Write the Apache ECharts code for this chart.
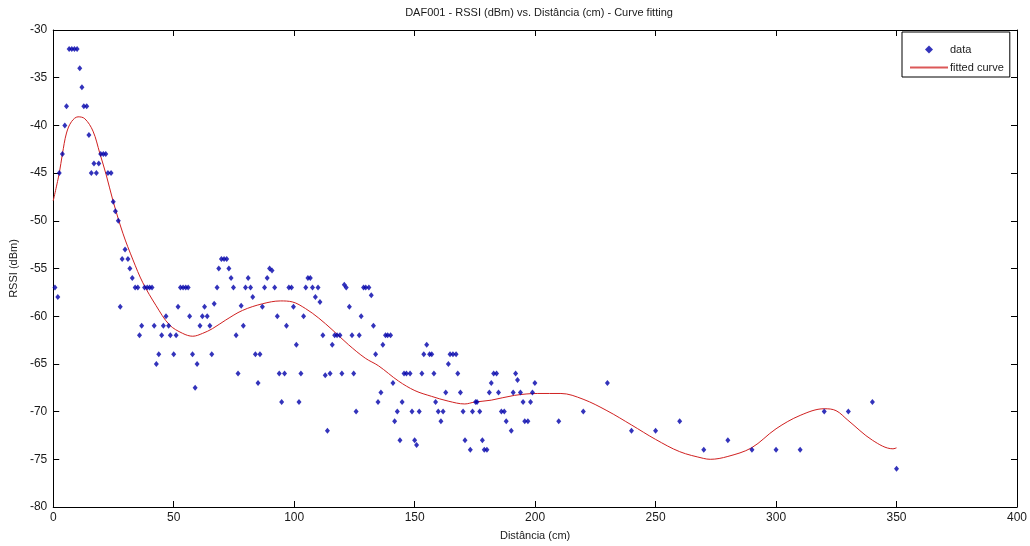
<!DOCTYPE html>
<html>
<head>
<meta charset="utf-8">
<script src="https://cdn.jsdelivr.net/npm/echarts@6/dist/echarts.min.js"></script>
<style>html,body{margin:0;padding:0;background:#fff}#c{width:1030px;height:546px}</style>
</head>
<body>
<div id="c"></div>
<script>
// Measured data (distance cm, RSSI dBm)
const dataX = [0.7,1.9,2.5,3.8,4.8,5.5,6.6,7.7,8.8,9.9,11,11.9,12.7,13.9,14.8,15.8,16.9,17.9,18.9,19.7,20.8,21.8,22.7,24,24.9,25.8,27,27.8,28.6,29.8,31,31.8,32.8,34,35.1,35.8,36.7,37.9,39,40,41,41.9,42.8,43.8,45,45.7,46.8,47.9,48.6,50,51,51.8,52.8,53.9,55,56,56.6,57.8,58.9,59.7,60.9,61.9,62.8,63.9,65,65.8,66.8,68,68.7,69.8,70.9,72,72.9,73.8,74.8,75.9,76.7,78,78.9,79.8,80.9,81.9,82.8,83.9,85,85.8,86.8,87.7,88.8,89.8,90.8,91.9,93,93.8,94.8,96,96.8,97.8,98.9,99.7,100.9,102,102.8,103.9,104.8,105.7,106.7,107.6,108.8,109.9,110.7,111.9,112.9,113.8,114.9,115.8,116.8,117.8,119,119.8,120.8,121.6,122.9,124,124.7,125.7,127,127.8,128.8,129.7,131,132,132.9,133.8,134.8,136,136.8,137.9,138.8,140,141,141.7,142.8,143.9,144.8,145.6,146.6,148.1,148.9,150,150.8,151.9,153,153.8,155,156.2,157.1,158,158.7,159.8,160.9,161.8,162.9,164,164.7,165.9,167.2,167.9,169,170.1,170.9,173.1,174,175.3,175.9,177,178.1,178.9,180,181,181.8,182.8,184,184.8,186,187.2,188,190.1,190.9,191.9,192.7,193.9,195,195.7,197,198.1,198.9,199.9,209.8,220,230,240,250,260,270,280,290,300,310,320,330,340,350];
const dataY = [-57,-58,-45,-43,-40,-38,-32,-32,-32,-32,-34,-36,-38,-38,-41,-45,-44,-45,-44,-43,-43,-43,-45,-45,-48,-49,-50,-59,-54,-53,-54,-55,-56,-57,-57,-62,-61,-57,-57,-57,-57,-61,-65,-64,-62,-61,-60,-61,-62,-64,-62,-59,-57,-57,-57,-57,-60,-64,-67.5,-65,-61,-60,-59,-60,-61,-64,-58.7,-57,-55,-54,-54,-54,-55,-56,-57,-62,-66,-58.9,-61,-57,-56,-57,-58,-64,-67,-64,-59,-57,-56,-55,-55.2,-57,-60,-66,-69,-66,-61,-57,-57,-59,-63,-69,-66,-60,-57,-56,-56,-57,-58,-57,-58.5,-62,-66.2,-72,-66,-63,-62,-62,-62,-66,-56.7,-57,-59,-62,-66,-70,-62,-60,-57,-57,-57,-57.8,-61,-64,-69,-68,-63,-62,-62,-62,-67,-71,-70,-73,-69,-66,-66,-66,-70,-73,-73.5,-70,-66,-64,-63,-64,-64,-66,-69,-70,-71,-70,-68,-65,-64,-64,-64,-66,-68,-70,-73,-74,-70,-69,-69,-70,-73,-74,-74,-68,-67,-66,-66,-68,-70,-70,-71,-72,-68,-66,-66.7,-68,-69,-71,-71,-69,-68,-67,-71,-70,-67,-72,-72,-71,-74,-73,-74,-74,-74,-70,-70,-69,-76];
// Fitted curve
const curveX = [0,2.5,3.8,5.5,7.6,10.3,13.1,16.5,19.3,22,24.8,28.9,33.1,37.2,42.7,48.2,53.7,57.9,62,66.1,71.6,78.5,86.8,94.3,99.2,104.7,110.2,115.7,122.6,129.5,135,143.3,150.1,157,163.9,170.8,174.9,181.8,191.4,201.1,210.7,219.9,229.8,240,249.9,260,269.8,272.7,280,289.8,300,310,320,324.9,329.8,340,348.5,350];
const curveY = [-47.9,-45,-43,-40.8,-39.6,-39.1,-39.3,-40.6,-42.9,-45.2,-47.9,-51.3,-54.1,-56.5,-58.9,-60.9,-61.8,-62.1,-61.8,-61.3,-60.4,-59.4,-58.7,-58.4,-58.5,-59.2,-60.2,-61.4,-63,-64.4,-65.2,-66.8,-67.8,-68.4,-68.9,-69.2,-69,-68.8,-68.3,-68.1,-68.1,-68.7,-69.9,-71.4,-72.9,-74.2,-74.9,-75,-74.7,-73.8,-71.8,-70.4,-69.7,-69.9,-70.9,-73,-73.9,-73.8];
const xTicks = {min: 0, max: 400, interval: 50};
const yTicks = {min: -80, max: -30, interval: 5};
const titleText = 'DAF001 - RSSI (dBm) vs. Distância (cm) - Curve fitting';

const FONT = 'Liberation Sans, Arial, sans-serif';
const TXT = '#1a1a1a';
const DOT = '#0000aa';
const RED = '#d02020';
const chart = echarts.init(document.getElementById('c'), null, {renderer: 'canvas'});
const axisCommon = {
  axisLine: {show: true, onZero: false, lineStyle: {color: '#000', width: 1}},
  axisTick: {show: true, inside: true, length: 6, lineStyle: {color: '#000'}},
  splitLine: {show: false}
};
chart.setOption({
  animation: false,
  backgroundColor: '#fff',
  title: {
    text: titleText, left: 534, top: 2, textAlign: 'center',
    textStyle: {fontFamily: FONT, fontSize: 11, fontWeight: 'normal', color: TXT}
  },
  legend: {
    orient: 'vertical', left: 902, top: 32, width: 110,
    backgroundColor: '#fff', borderColor: '#000', borderWidth: 1,
    padding: [12, 6, 4, 8], itemWidth: 38, itemHeight: 8, itemGap: 7,
    symbolKeepAspect: true,
    textStyle: {fontFamily: FONT, fontSize: 11, color: TXT, padding: [0, 0, 0, -3]},
    data: [
      {name: 'data', icon: 'path://M0,-3L3,0L0,3L-3,0Z', itemStyle: {color: DOT, borderWidth: 0}},
      {name: 'fitted curve', icon: 'path://M0,0H38V2H0Z',
        itemStyle: {color: RED, opacity: 0.75, borderWidth: 0}}
    ]
  },
  grid: {left: 50, right: 12, top: 30, bottom: 31, containLabel: false},
  xAxis: [
    Object.assign({type: 'value', min: xTicks.min, max: xTicks.max, interval: xTicks.interval, position: 'bottom',
      name: 'Distância (cm)', nameLocation: 'middle', nameGap: 23,
      nameTextStyle: {fontFamily: FONT, fontSize: 11, color: TXT},
      axisLabel: {fontFamily: FONT, fontSize: 12, color: TXT, margin: 5}}, axisCommon),
    Object.assign({type: 'value', min: xTicks.min, max: xTicks.max, interval: xTicks.interval, position: 'top',
      axisLabel: {show: false}}, axisCommon)
  ],
  yAxis: [
    Object.assign({type: 'value', min: yTicks.min, max: yTicks.max, interval: yTicks.interval, position: 'left',
      name: 'RSSI (dBm)', nameLocation: 'middle', nameGap: 28,
      nameTextStyle: {fontFamily: FONT, fontSize: 11, color: TXT},
      axisLabel: {fontFamily: FONT, fontSize: 12, color: TXT, margin: 6}}, axisCommon),
    Object.assign({type: 'value', min: yTicks.min, max: yTicks.max, interval: yTicks.interval, position: 'right',
      axisLabel: {show: false}}, axisCommon)
  ],
  series: [
    {
      name: 'data', type: 'scatter', xAxisIndex: 0, yAxisIndex: 0,
      symbol: 'diamond', symbolSize: [5, 6],
      itemStyle: {color: DOT},
      data: dataX.map((x, i) => [x, dataY[i]]), z: 3
    },
    {
      name: 'fitted curve', type: 'line', xAxisIndex: 0, yAxisIndex: 0,
      smooth: 0.35, showSymbol: false, symbol: 'none',
      lineStyle: {color: RED, width: 1},
      itemStyle: {color: RED},
      data: curveX.map((x, i) => [x, curveY[i]]), z: 2
    }
  ]
});
</script>
</body>
</html>
